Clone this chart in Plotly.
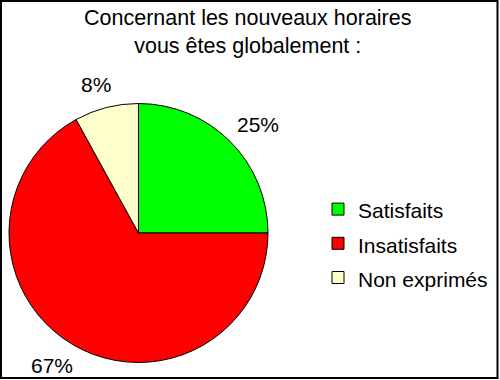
import math
import plotly.graph_objects as go

title_lines = ["Concernant les nouveaux horaires", "vous êtes globalement :"]
categories = ["Satisfaits", "Insatisfaits", "Non exprimés"]
values = [25, 67, 8]
colors = ["#00FF00", "#FF0000", "#FFFFCC"]

W, H = 500, 380
FONT = "Liberation Sans, Arial, sans-serif"

# pie geometry in pixels
cx, cy, R = 138.5, 233, 129.5
dom_x = [(cx - R) / W, (cx + R) / W]
dom_y = [1 - (cy + R) / H, 1 - (cy - R) / H]

fig = go.Figure(go.Pie(
    labels=[f'<span style="font-size:21px">{c}</span>' for c in categories],
    values=values,
    marker=dict(colors=colors, line=dict(color="black", width=1)),
    sort=False, direction="clockwise", rotation=0,
    textinfo="none", hoverinfo="label+percent",
    domain=dict(x=dom_x, y=dom_y),
))

# percentage labels placed outside each slice, derived from data
total = sum(values)
cum = 0
annotations = []
for v in values:
    mid = (cum + v / 2) / total * 2 * math.pi
    cum += v
    s, c = math.sin(mid), math.cos(mid)
    r = R + 15
    px, py = cx + r * s, cy - r * c
    tw, th = 50, 18
    tx = px + tw / 2 * s
    ty = py - th / 2 * c
    annotations.append(dict(
        x=tx / W, y=1 - ty / H, xref="paper", yref="paper",
        text=f"{round(v / total * 100)}%", showarrow=False,
        xanchor="center", yanchor="middle",
        font=dict(family=FONT, size=21, color="black"),
    ))

annotations.append(dict(
    x=0.495, y=1 - 32 / H, xref="paper", yref="paper",
    text="<br>".join(title_lines), showarrow=False,
    xanchor="center", yanchor="middle",
    font=dict(family=FONT, size=21.5, color="black"),
))

fig.update_layout(
    width=W, height=H,
    margin=dict(l=0, r=0, t=0, b=0),
    paper_bgcolor="white", plot_bgcolor="white",
    showlegend=True,
    legend=dict(
        x=318 / W, y=1 - 187 / H, xanchor="left", yanchor="top",
        font=dict(family=FONT, size=24, color="black"),
        bgcolor="rgba(0,0,0,0)", traceorder="normal",
    ),
    annotations=annotations,
    shapes=[dict(
        type="rect", xref="paper", yref="paper",
        x0=1 / W, x1=497.5 / W, y0=1 - 378 / H, y1=1 - 1 / H,
        line=dict(color="black", width=2),
    )],
)

fig.write_html("out.html", config={"displayModeBar": False},
               post_script="document.body.style.margin='0';")
